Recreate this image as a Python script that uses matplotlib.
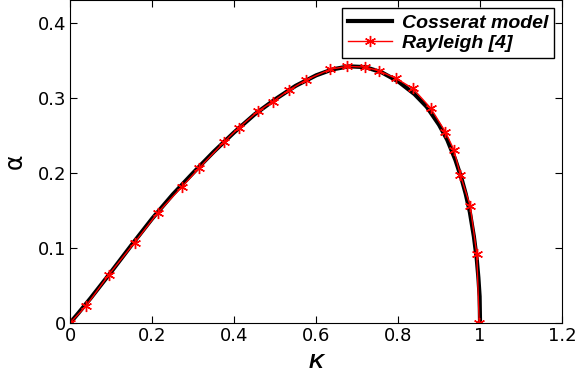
import matplotlib
matplotlib.use("Agg")
import matplotlib.pyplot as plt
from matplotlib.ticker import FormatStrFormatter

# Rayleigh points
k_rayleigh = [0.0, 0.038, 0.094, 0.157, 0.214, 0.272, 0.314, 0.375, 0.411,
              0.458, 0.494, 0.533, 0.576, 0.634, 0.675, 0.720, 0.753, 0.795,
              0.836, 0.880, 0.915, 0.936, 0.952, 0.976, 0.992, 0.998]
a_rayleigh = [0.0, 0.022, 0.064, 0.107, 0.147, 0.181, 0.206, 0.241, 0.260,
              0.282, 0.295, 0.310, 0.324, 0.338, 0.342, 0.341, 0.336, 0.326,
              0.3125, 0.286, 0.255, 0.231, 0.197, 0.156, 0.092, 0.0]

# Cosserat model curve
k_cosserat = [0.0, 0.02, 0.05, 0.10, 0.15, 0.20, 0.25, 0.30, 0.35, 0.40,
              0.45, 0.50, 0.55, 0.60, 0.64, 0.68, 0.72, 0.76, 0.80, 0.84,
              0.87, 0.90, 0.92, 0.94, 0.955, 0.965, 0.975, 0.985, 0.992,
              0.996, 0.999, 1.0]
a_cosserat = [0.0, 0.013, 0.033, 0.068, 0.104, 0.139, 0.171, 0.200, 0.228,
              0.254, 0.278, 0.298, 0.316, 0.330, 0.338, 0.342, 0.341, 0.334,
              0.322, 0.305, 0.288, 0.264, 0.244, 0.217, 0.192, 0.172, 0.148,
              0.115, 0.085, 0.060, 0.035, 0.0]

fig = plt.figure(figsize=(5.79, 3.84), dpi=100)
ax = fig.add_axes([0.1214, 0.1596, 0.8492, 0.8394])

ax.plot(k_cosserat, a_cosserat, color="black", linewidth=3,
        label="Cosserat model")
ax.plot(k_rayleigh, a_rayleigh, color="red", linewidth=1, marker=(6, 2, 0),
        markersize=8, markeredgewidth=1, label="Rayleigh [4]")

ax.set_xlim(0, 1.2)
ax.set_ylim(0, 0.43)
ax.set_xticks([0, 0.2, 0.4, 0.6, 0.8, 1.0, 1.2])
ax.set_yticks([0, 0.1, 0.2, 0.3, 0.4])
ax.xaxis.set_major_formatter(FormatStrFormatter("%g"))
ax.yaxis.set_major_formatter(FormatStrFormatter("%g"))
ax.tick_params(direction="in", top=True, right=True, length=5,
               labelsize=13, pad=3)
for lab in ax.get_xticklabels() + ax.get_yticklabels():
    lab.set_family("DejaVu Sans")

ax.set_xlabel("K", fontsize=15, fontweight="bold", fontstyle="italic",
              family="Liberation Sans", labelpad=6)
ax.set_ylabel("α", fontsize=17, family="DejaVu Sans", labelpad=8)

leg = ax.legend(loc="upper right", fancybox=False, edgecolor="black",
                framealpha=1, borderaxespad=0.4, handlelength=2.3,
                borderpad=0.3, labelspacing=0.15, handletextpad=0.5,
                prop={"family": "Liberation Sans", "weight": "bold",
                      "style": "italic", "size": 14})
leg.get_frame().set_linewidth(1)

fig.savefig("out.png", dpi=100)
